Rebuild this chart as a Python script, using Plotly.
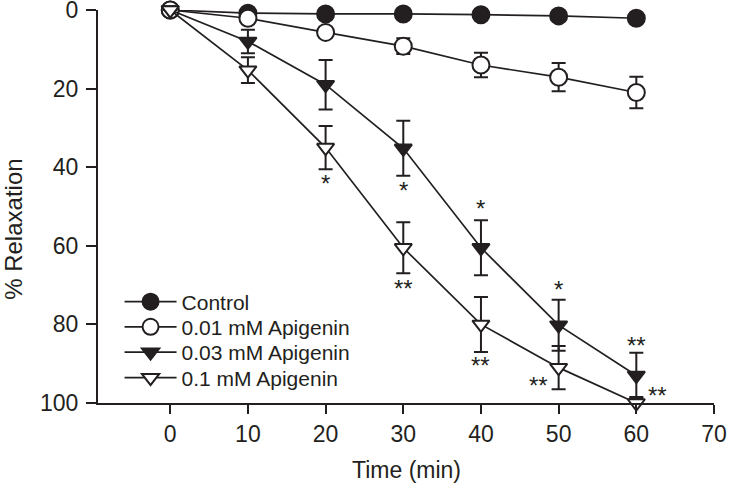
import plotly.graph_objects as go

time = [0, 10, 20, 30, 40, 50, 60]
series_names = ["Control", "0.01 mM Apigenin", "0.03 mM Apigenin", "0.1 mM Apigenin"]
control = [0, 0.8, 1.0, 1.0, 1.2, 1.5, 2.1]
control_err = [0, 0.3, 0.3, 0.4, 0.4, 0.5, 0.5]
api_001 = [0, 2.1, 5.7, 9.2, 14.0, 17.1, 21.0]
api_001_err = [0, 1.0, 1.3, 2.0, 3.1, 3.6, 4.0]
api_003 = [0, 8.0, 19.0, 35.2, 60.5, 80.2, 93.0]
api_003_err = [0, 3.0, 6.3, 7.0, 7.0, 6.5, 5.8]
api_01 = [0, 15.3, 35.0, 60.5, 80.0, 91.0, 100.0]
api_01_err = [0, 3.3, 5.5, 6.5, 7.0, 5.5, 1.5]
x_ticks = [0, 10, 20, 30, 40, 50, 60, 70]
y_ticks = [0, 20, 40, 60, 80, 100]

# significance marks: (time, series index, text, xshift px, yshift px)
sig_marks = [
    (20, 3, "*", 0, -36),
    (30, 2, "*", 0, -42),
    (30, 3, "**", 0, -41),
    (40, 2, "*", 0, 39),
    (40, 3, "**", 0, -41),
    (50, 2, "*", 0, 36),
    (50, 3, "**", -20, -18),
    (60, 2, "**", 0, 30),
    (60, 3, "**", 21, 8),
]

ink = "#231f20"
font = "Liberation Sans, Arial, Helvetica, sans-serif"

values = [control, api_001, api_003, api_01]
errors = [control_err, api_001_err, api_003_err, api_01_err]
symbols = ["circle", "circle", "triangle-down", "triangle-down"]
fills = [ink, "white", ink, "white"]
sizes = [17, 17, 15, 15]
legend_ids = ["legend", "legend2", "legend3", "legend4"]
legend_rows = [0.257, 0.193, 0.1285, 0.0636]

fig = go.Figure()
for name, v, e, sym, fc, sz, lg in zip(series_names, values, errors, symbols, fills, sizes, legend_ids):
    fig.add_trace(go.Scatter(
        x=time, y=v, name=name, mode="lines+markers", legend=lg,
        line=dict(color=ink, width=1.7),
        marker=dict(symbol=sym, size=sz, color=fc, line=dict(color=ink, width=2)),
        error_y=dict(type="data", array=e, visible=True, color=ink, thickness=2, width=7),
        cliponaxis=False,
    ))

for t, si, txt, dx, dy in sig_marks:
    fig.add_annotation(x=t, y=values[si][time.index(t)], text=txt, showarrow=False,
                       xshift=dx, yshift=dy, font=dict(family=font, size=24, color=ink))

fig.add_annotation(x=-0.1365, y=0.443, xref="paper", yref="paper", text="% Relaxation",
                   textangle=-90, showarrow=False, xanchor="center", yanchor="middle",
                   font=dict(family=font, size=24, color=ink))
fig.add_annotation(x=0.5, y=-0.17, xref="paper", yref="paper", text="Time (min)",
                   showarrow=False, xanchor="center", yanchor="middle",
                   font=dict(family=font, size=23, color=ink))

legend_style = dict(x=0.035, xanchor="left", yanchor="middle",
                    font=dict(family=font, size=21, color=ink),
                    bgcolor="rgba(0,0,0,0)", itemwidth=52)
layout_legends = {lg: dict(legend_style, y=row) for lg, row in zip(legend_ids, legend_rows)}

fig.update_layout(
    width=729, height=489,
    margin=dict(l=98, r=15, t=10, b=86, autoexpand=False),
    paper_bgcolor="white", plot_bgcolor="white",
    font=dict(family=font, size=23, color=ink),
    showlegend=True,
    **layout_legends,
    xaxis=dict(range=[-9.3, 70], tickvals=x_ticks, automargin=False,
               showgrid=False, zeroline=False, showline=True, linecolor=ink, linewidth=2,
               ticks="outside", ticklen=9, tickwidth=2, tickcolor=ink,
               ticklabeloverflow="allow",
               tickfont=dict(family=font, size=23, color=ink)),
    yaxis=dict(range=[100, 0], tickvals=y_ticks, automargin=False,
               showgrid=False, zeroline=False, showline=True, linecolor=ink, linewidth=2,
               ticks="outside", ticklen=10, tickwidth=2, tickcolor=ink, ticklabelstandoff=3,
               ticklabeloverflow="allow",
               tickfont=dict(family=font, size=23, color=ink)),
)

fig.write_html("out.html", config={"displayModeBar": False},
               post_script="document.body.style.margin='0px';")
